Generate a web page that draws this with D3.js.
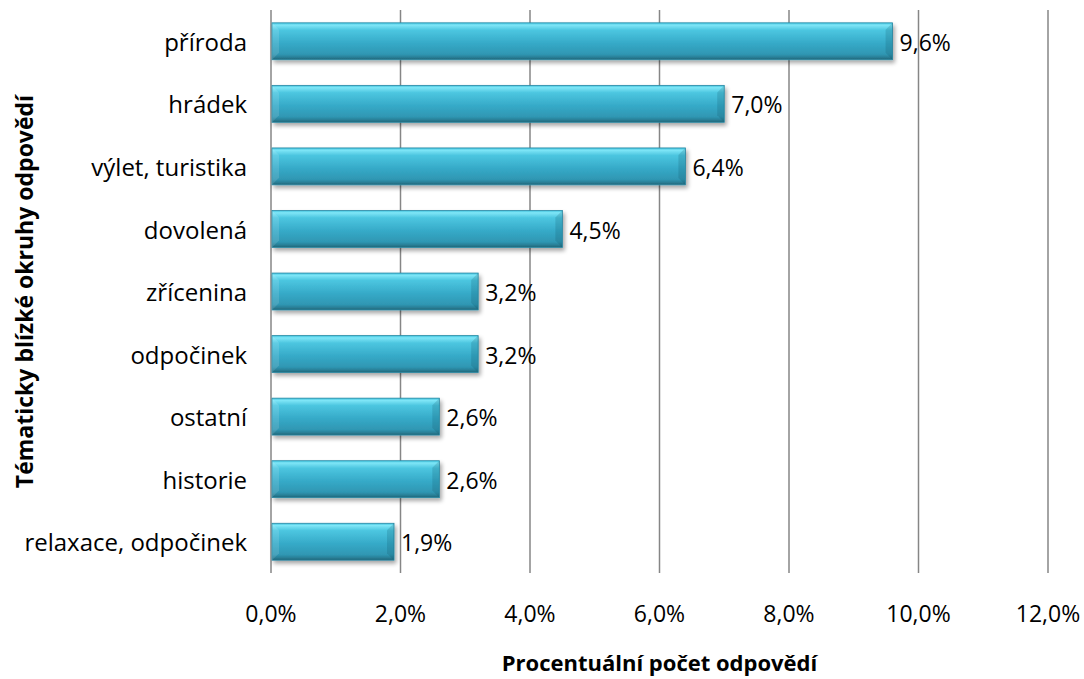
<!DOCTYPE html>
<html><head><meta charset="utf-8">
<script src="https://cdn.jsdelivr.net/npm/d3@7"></script>
<style>body{margin:0;background:#fff}svg{display:block}text{font-family:"Open Sans",sans-serif;fill:#000}</style>
</head><body><svg id="c" width="1084" height="679"></svg>
<script>
const categories = ["příroda","hrádek","výlet, turistika","dovolená","zřícenina","odpočinek","ostatní","historie","relaxace, odpočinek"];
const values = [9.6, 7.0, 6.4, 4.5, 3.2, 3.2, 2.6, 2.6, 1.9];
const tickValues = [0,2,4,6,8,10,12];
const xTitle = "Procentuální počet odpovědí";
const yTitle = "Tématicky blízké okruhy odpovědí";

const svg = d3.select("#c");
const m = {left:271, right:1048, top:10, bottom:573};
const x = d3.scaleLinear().domain([0,12]).range([m.left, m.right]);
const y = d3.scaleBand().domain(categories).range([m.top, m.bottom]).paddingInner(0.41).paddingOuter(0.205);
const fmt = v => v.toFixed(1).replace(".", ",") + "%";

const defs = svg.append("defs");
const g = defs.append("linearGradient").attr("id","bg").attr("x1",0).attr("y1",0).attr("x2",0).attr("y2",1);
[[0,"#3cc0dc"],[0.06,"#7fe6f7"],[0.2,"#4cc6e0"],[0.55,"#36aac8"],[0.85,"#2f97b3"],[0.93,"#2a8098"],[1,"#1f6577"]]
  .forEach(([o,c])=>g.append("stop").attr("offset",o).attr("stop-color",c));
const sh = defs.append("filter").attr("id","sh").attr("x","-5%").attr("y","-20%").attr("width","115%").attr("height","160%");
sh.append("feGaussianBlur").attr("in","SourceAlpha").attr("stdDeviation",2);
sh.append("feOffset").attr("dx",2).attr("dy",3).attr("result","b");
sh.append("feComponentTransfer").append("feFuncA").attr("type","linear").attr("slope",0.35);
const mg = sh.append("feMerge"); mg.append("feMergeNode"); mg.append("feMergeNode").attr("in","SourceGraphic");

// gridlines
svg.append("g").selectAll("line").data(tickValues).join("line")
  .attr("x1",d=>x(d)).attr("x2",d=>x(d)).attr("y1",m.top).attr("y2",m.bottom)
  .attr("stroke","#868686").attr("stroke-width",1.5);

// x tick labels
svg.append("g").selectAll("text").data(tickValues).join("text")
  .attr("x",d=>x(d)).attr("y",622).attr("text-anchor","middle")
  .style("font-size","23px").text(d=>fmt(d));

// bars
const bars = svg.append("g").selectAll("g").data(categories).join("g");
bars.append("rect").attr("x",x(0)+1).attr("y",d=>y(d))
  .attr("width",(d,i)=>x(values[i])-x(0)-1).attr("height",y.bandwidth())
  .attr("fill","url(#bg)").attr("stroke","#2a8aa5").attr("stroke-width",0.8).attr("filter","url(#sh)");
// bevel highlights
bars.append("path").attr("d",(d,i)=>{
  const x0=x(0)+1, y0=y(d), h=y.bandwidth(), b=7;
  return `M${x0},${y0}L${x0+b},${y0+b}L${x0+b},${y0+h-b}L${x0},${y0+h}Z`;
}).attr("fill","#ffffff").attr("opacity",0.12);
bars.append("path").attr("d",(d,i)=>{
  const x1=x(values[i]), y0=y(d), h=y.bandwidth(), b=7;
  return `M${x1},${y0}L${x1-b},${y0+b}L${x1-b},${y0+h-b}L${x1},${y0+h}Z`;
}).attr("fill","#0b4a5a").attr("opacity",0.18);

// value labels
bars.append("text").attr("x",(d,i)=>x(values[i])+7).attr("y",d=>y(d)+y.bandwidth()/2)
  .attr("dy","0.42em").style("font-size","23px").text((d,i)=>fmt(values[i]));

// category labels
svg.append("g").selectAll("text").data(categories).join("text")
  .attr("x",247).attr("y",d=>y(d)+y.bandwidth()/2).attr("dy","0.4em")
  .attr("text-anchor","end").style("font-size","24px").text(d=>d);

// titles
svg.append("text").attr("x",(m.left+m.right)/2).attr("y",671).attr("text-anchor","middle")
  .style("font-size","22px").style("font-weight","bold").text(xTitle);
svg.append("text").attr("transform",`translate(33,${(m.top+m.bottom)/2}) rotate(-90)`)
  .attr("text-anchor","middle").style("font-size","23px").style("font-weight","bold").text(yTitle);
</script></body></html>
